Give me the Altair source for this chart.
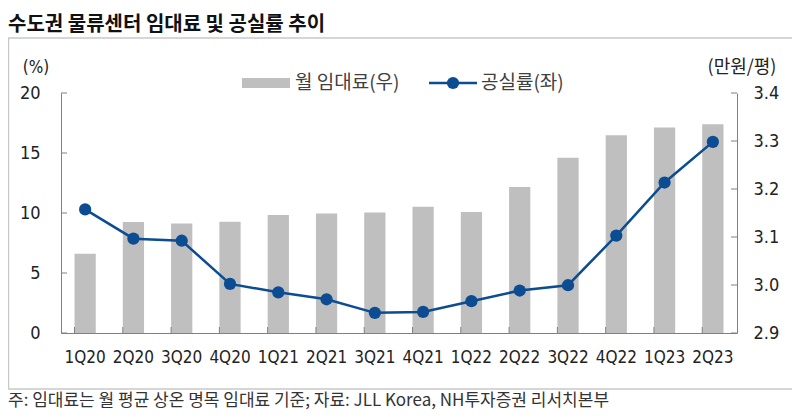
import altair as alt
import pandas as pd

quarters = ["1Q20", "2Q20", "3Q20", "4Q20", "1Q21", "2Q21", "3Q21", "4Q21",
            "1Q22", "2Q22", "3Q22", "4Q22", "1Q23", "2Q23"]
vacancy = [10.3, 7.86, 7.69, 4.09, 3.39, 2.81, 1.68, 1.76, 2.65, 3.54, 3.98, 8.12, 12.54, 15.93]
rent = [3.065, 3.131, 3.128, 3.132, 3.146, 3.149, 3.151, 3.163, 3.152, 3.204, 3.265, 3.312, 3.328, 3.335]
left_ticks = [0, 5, 10, 15, 20]
right_ticks = [2.9, 3.0, 3.1, 3.2, 3.3, 3.4]

title_text = "수도권 물류센터 임대료 및 공실률 추이"
legend_bar = "월 임대료(우)"
legend_line = "공실률(좌)"
left_unit = "(%)"
right_unit = "(만원/평)"
footnote = "주: 임대료는 월 평균 상온 명목 임대료 기준; 자료: JLL Korea, NH투자증권 리서치본부"

W, H = 676, 240
BAR = "#BFBFBF"
BLUE = "#0B4C92"
AX = "#808080"
NUM_FONT = "Liberation Sans Narrow, DejaVu Sans Condensed, Liberation Sans"
KR_FONT = "Noto Sans CJK KR"

df = pd.DataFrame({"quarter": quarters, "vacancy": vacancy, "rent": rent})
lt = pd.DataFrame({"v": left_ticks})
rt = pd.DataFrame({"v": right_ticks})
one = pd.DataFrame({"a": [0]})

xscale = alt.Scale(paddingInner=0.56, paddingOuter=0.28)
xaxis = alt.Axis(title=None, labelAngle=0, tickSize=0, labelPadding=16,
                 labelFontSize=17, labelFont=NUM_FONT, labelColor="#222222",
                 domainColor=AX, domainWidth=1, grid=False)
lscale = alt.Scale(domain=[0, 20], zero=False, nice=False)
rscale = alt.Scale(domain=[2.9, 3.4], zero=False, nice=False)
laxis = alt.Axis(title=None, orient="left", values=left_ticks,
                 tickSize=0, labelPadding=21, labelFontSize=18, labelFont=NUM_FONT,
                 labelColor="#222222", domainColor=AX, grid=False)
raxis = alt.Axis(title=None, orient="right", values=right_ticks, format=".1f",
                 tickSize=0, labelPadding=16, labelFontSize=18, labelFont=NUM_FONT,
                 labelColor="#222222", domainColor=AX, grid=False)


def xq(**kw):
    return alt.X("quarter:N", sort=quarters, scale=xscale, axis=xaxis, **kw)


bars = alt.Chart(df).mark_bar(color=BAR).encode(
    x=xq(),
    y=alt.Y("rent:Q", scale=rscale, axis=raxis),
    y2=alt.datum(2.9),
)
rticks = alt.Chart(rt).mark_rule(color=AX).encode(
    y=alt.Y("v:Q", scale=rscale, axis=raxis),
    x=alt.value(W - 6), x2=alt.value(W),
)
right_layer = alt.layer(bars, rticks)

line = alt.Chart(df).mark_line(color=BLUE, strokeWidth=2.5).encode(
    x=xq(),
    y=alt.Y("vacancy:Q", scale=lscale, axis=laxis),
)
pts = alt.Chart(df).mark_circle(color=BLUE, opacity=1, size=150).encode(
    x=xq(), y=alt.Y("vacancy:Q", scale=lscale, axis=laxis),
)
lticks = alt.Chart(lt).mark_rule(color=AX).encode(
    y=alt.Y("v:Q", scale=lscale, axis=laxis),
    x=alt.value(0), x2=alt.value(6),
)
xticks = alt.Chart(df).mark_rule(color=AX).encode(
    x=xq(bandPosition=0),
    y=alt.value(H - 6), y2=alt.value(H),
)


def txt(s, x, y, size, color="#222222", font=KR_FONT, weight="normal", align="left"):
    return alt.Chart(one).mark_text(text=s, fontSize=size, font=font, color=color,
                                    fontWeight=weight, align=align, baseline="middle").encode(
        x=alt.value(x), y=alt.value(y))


title = txt(title_text, -53, -68, 20, color="#111111", weight="bold")
foot = txt(footnote, -53, 308, 17, color="#333333")
lunit = txt(left_unit, -25, -25, 17, font=NUM_FONT, align="center")
runit = txt(right_unit, 681, -25, 18, font=KR_FONT, align="center")
leg_rect = alt.Chart(one).mark_rect(color=BAR).encode(
    x=alt.value(181), x2=alt.value(229), y=alt.value(-15), y2=alt.value(-5))
leg_bar_t = txt(legend_bar, 234, -10, 19, color="#404040")
leg_line = alt.Chart(one).mark_rule(color=BLUE, strokeWidth=2.5).encode(
    x=alt.value(368), x2=alt.value(416), y=alt.value(-10))
leg_dot = alt.Chart(one).mark_circle(color=BLUE, opacity=1, size=150).encode(
    x=alt.value(392), y=alt.value(-10))
leg_line_t = txt(legend_line, 420, -10, 19, color="#404040")

box_top = alt.Chart(one).mark_rule(color="#C8C8C8", strokeWidth=1.5).encode(
    x=alt.value(-53), x2=alt.value(731), y=alt.value(-55))
box_bot = alt.Chart(one).mark_rule(color="#C8C8C8", strokeWidth=1.5).encode(
    x=alt.value(-53), x2=alt.value(731), y=alt.value(296))
box_left = alt.Chart(one).mark_rule(color="#C8C8C8", strokeWidth=1.5).encode(
    x=alt.value(-52.5), y=alt.value(-55), y2=alt.value(296))

left_layer = alt.layer(line, pts, lticks, xticks, title, foot, lunit, runit,
                       leg_rect, leg_bar_t, leg_line, leg_dot, leg_line_t,
                       box_top, box_bot, box_left)

chart = alt.layer(right_layer, left_layer).resolve_scale(y="independent").properties(
    width=W, height=H,
    autosize=alt.AutoSizeParams(type="none"),
    padding={"left": 53, "top": 85, "right": 55, "bottom": 77},
    background="white",
).configure_view(strokeWidth=0)

chart.save("out.html", embed_options={"renderer": "svg", "actions": False})
